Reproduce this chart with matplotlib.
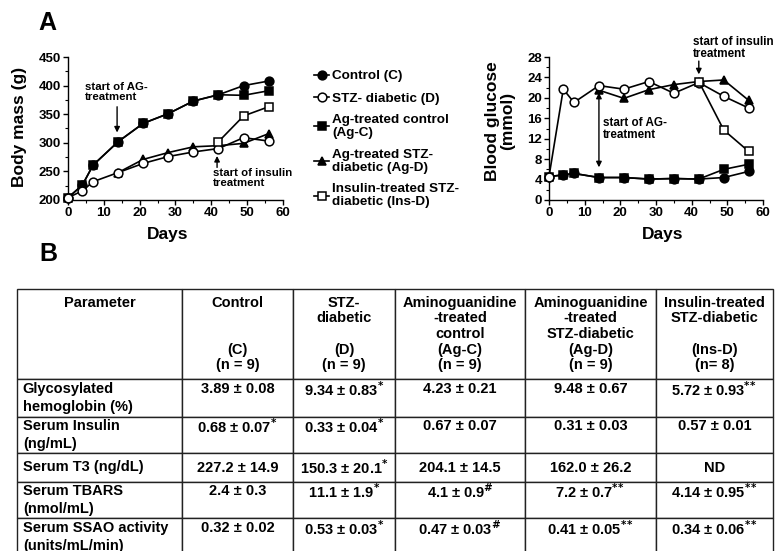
import numpy as np
import matplotlib
matplotlib.use("Agg")
import matplotlib.pyplot as plt
from matplotlib.ticker import MultipleLocator, AutoMinorLocator

plt.rcParams['font.family'] = ['Liberation Sans', 'DejaVu Sans']
plt.rcParams['font.weight'] = 'bold'
plt.rcParams['axes.labelweight'] = 'bold'

nan = np.nan
days = [0, 4, 7, 14, 21, 28, 35, 42, 49, 56]

# body mass (g)
mass_c = [204, 226, 261, 302, 334, 351, 373, 384, 400, 408]
mass_d = [204, 216, 232, 248, 264, 276, 284, 290, 309, 303]
mass_agc = [204, 226, 261, 302, 334, 351, 373, 384, 383, 391]
mass_agd = [nan, nan, nan, 248, 271, 283, 293, 295, 299, 316]
mass_insd = [nan, nan, nan, nan, nan, nan, nan, 302, 347, 363]

# blood glucose (mmol)
glu_c = [4.6, 4.9, 5.2, 4.4, 4.4, 4.1, 4.2, 4.1, 4.4, 5.6]
glu_d = [4.6, 21.7, 19.1, 22.4, 21.7, 23.2, 20.9, 23.0, 20.3, 18.0]
glu_agc = [4.6, 4.9, 5.2, 4.4, 4.4, 4.1, 4.2, 4.1, 6.0, 7.0]
glu_agd = [nan, nan, nan, 21.5, 19.9, 21.6, 22.6, 23.2, 23.5, 19.5]
glu_insd = [nan, nan, nan, nan, nan, nan, nan, 23.2, 13.7, 9.5]

group_labels = ['Control (C)', 'STZ- diabetic (D)', 'Ag-treated control\n(Ag-C)',
                'Ag-treated STZ-\ndiabetic (Ag-D)', 'Insulin-treated STZ-\ndiabetic (Ins-D)']

table_header = ['Parameter\n\n\n\n', 'Control\n\n\n(C)\n(n = 9)', 'STZ-\ndiabetic\n\n(D)\n(n = 9)',
                'Aminoguanidine\n-treated\ncontrol\n(Ag-C)\n(n = 9)',
                'Aminoguanidine\n-treated\nSTZ-diabetic\n(Ag-D)\n(n = 9)',
                'Insulin-treated\nSTZ-diabetic\n\n(Ins-D)\n(n= 8)']
table_params = ['Glycosylated\nhemoglobin (%)', 'Serum Insulin\n(ng/mL)', 'Serum T3 (ng/dL)',
                'Serum TBARS\n(nmol/mL)', 'Serum SSAO activity\n(units/mL/min)']
S1 = r'$^{*}$'
S2 = r'$^{*}$$^{*}$'
SH = r'$^{\#}$'
table_values = [
    ['3.89 ± 0.08', '9.34 ± 0.83' + S1, '4.23 ± 0.21', '9.48 ± 0.67', '5.72 ± 0.93' + S2],
    ['0.68 ± 0.07' + S1, '0.33 ± 0.04' + S1, '0.67 ± 0.07', '0.31 ± 0.03', '0.57 ± 0.01'],
    ['227.2 ± 14.9', '150.3 ± 20.1' + S1, '204.1 ± 14.5', '162.0 ± 26.2', 'ND'],
    ['2.4 ± 0.3', '11.1 ± 1.9' + S1, '4.1 ± 0.9' + SH, '7.2 ± 0.7' + S2, '4.14 ± 0.95' + S2],
    ['0.32 ± 0.02', '0.53 ± 0.03' + S1, '0.47 ± 0.03' + SH, '0.41 ± 0.05' + S2, '0.34 ± 0.06' + S2],
]

W, H = 775, 551
fig = plt.figure(figsize=(W / 100, H / 100), dpi=100)


def fig_box(x0, y0, x1, y1):
    # pixel box (top-left origin) -> figure fraction rect
    return [x0 / W, 1 - y1 / H, (x1 - x0) / W, (y1 - y0) / H]


markers = [('o', 'black'), ('o', 'white'), ('s', 'black'), ('^', 'black'), ('s', 'white')]
zorders = [3, 6, 4, 5, 7]
arrow_kw = dict(color='black', lw=1.0, mutation_scale=8, shrinkA=0, shrinkB=0)


def draw_series(ax, series):
    for vals, (m, fc), z, lab in zip(series, markers, zorders, group_labels):
        ax.plot(days, vals, marker=m, color='black', mfc=fc, mec='black', ms=6.3, mew=1.1,
                lw=1.2, zorder=z, clip_on=False, label=lab)


def style_axes(ax):
    for s in ['top', 'right']:
        ax.spines[s].set_visible(False)
    for s in ['left', 'bottom']:
        ax.spines[s].set_linewidth(1.0)
    ax.tick_params(which='major', direction='out', length=3.5, width=1.0, labelsize=9.5, pad=1.5)
    ax.tick_params(which='minor', direction='out', length=2, width=0.8)
    ax.xaxis.set_major_locator(MultipleLocator(10))
    ax.xaxis.set_minor_locator(AutoMinorLocator(2))
    ax.yaxis.set_minor_locator(AutoMinorLocator(2))
    ax.set_xlim(0, 60)


# body mass
ax1 = fig.add_axes(fig_box(68, 57, 283, 200))
draw_series(ax1, [mass_c, mass_d, mass_agc, mass_agd, mass_insd])
style_axes(ax1)
ax1.set_ylim(200, 450)
ax1.yaxis.set_major_locator(MultipleLocator(50))
ax1.set_ylabel('Body mass (g)', fontsize=12.5)
ax1.yaxis.set_label_coords(-0.19, 0.51)
ax1.set_xlabel('Days', fontsize=12.5, va='top')
ax1.xaxis.set_label_coords(0.465, -0.19)
ax1.text(4.7, 389, 'start of AG-\ntreatment', fontsize=8.2, ha='left', va='center', linespacing=1.0)
ax1.annotate('', xy=(13.7, 318), xytext=(13.7, 363), arrowprops=dict(arrowstyle='-|>', **arrow_kw))
ax1.text(40.5, 239, 'start of insulin\ntreatment', fontsize=8.2, ha='left', va='center', linespacing=1.0)
ax1.annotate('', xy=(41.6, 277), xytext=(41.6, 257), arrowprops=dict(arrowstyle='-|>', **arrow_kw))

leg = fig.legend(*ax1.get_legend_handles_labels(), loc='upper left',
                 bbox_to_anchor=(314 / W, 1 - 70 / H), frameon=False, fontsize=9.7,
                 handlelength=1.15, handletextpad=0.2, borderpad=0, borderaxespad=0,
                 labelspacing=0.72)
for t in leg.get_texts():
    t.set_linespacing(1.1)

# blood glucose
ax2 = fig.add_axes(fig_box(549, 57, 763, 200))
draw_series(ax2, [glu_c, glu_d, glu_agc, glu_agd, glu_insd])
style_axes(ax2)
ax2.set_ylim(0, 28)
ax2.yaxis.set_major_locator(MultipleLocator(4))
ax2.set_ylabel('Blood glucose\n(mmol)', fontsize=12.5, linespacing=1.0)
ax2.yaxis.set_label_coords(-0.16, 0.55)
ax2.set_xlabel('Days', fontsize=12.5, va='top')
ax2.xaxis.set_label_coords(0.53, -0.19)
ax2.text(40.4, 29.7, 'start of insulin\ntreatment', fontsize=8.4, ha='left', va='center',
         linespacing=1.0, clip_on=False)
ax2.annotate('', xy=(42, 24.6), xytext=(42, 27.2), arrowprops=dict(arrowstyle='-|>', **arrow_kw))
ax2.text(15.1, 13.9, 'start of AG-\ntreatment', fontsize=8.4, ha='left', va='center', linespacing=1.0)
ax2.annotate('', xy=(14, 21.0), xytext=(14, 6.4), arrowprops=dict(arrowstyle='<|-|>', **arrow_kw))

fig.text(47 / W, 1 - 23 / H, 'A', fontsize=18, ha='center', va='center')
fig.text(48 / W, 1 - 254 / H, 'B', fontsize=18, ha='center', va='center')

# table
col_px = [165, 111, 102, 130, 131, 117]
row_px = [90, 38, 36, 29, 36, 38]
tax = fig.add_axes(fig_box(17, 289, 773, 289 + sum(row_px)))
tax.axis('off')

cell_text = [table_header]
for i, p in enumerate(table_params):
    row = [p] + table_values[i]
    if '\n' in p:
        row = [row[0]] + [v + '\n' for v in row[1:]]
    cell_text.append(row)

tbl = tax.table(cellText=cell_text, colWidths=[c / sum(col_px) for c in col_px],
                cellLoc='center', bbox=[0, 0, 1, 1])
tbl.auto_set_font_size(False)
tbl.set_fontsize(10.5)
for (r, c), cell in tbl.get_celld().items():
    cell.set_height(row_px[r] / sum(row_px))
    cell.set_edgecolor('#222222')
    cell.set_linewidth(1.0)
    txt = cell.get_text()
    txt.set_fontweight('bold')
    txt.set_linespacing(1.15 if r == 0 else 1.3)
    if c == 0 and r > 0:
        txt.set_horizontalalignment('left')
        cell.PAD = 0.035

fig.savefig('out.png', dpi=100)
